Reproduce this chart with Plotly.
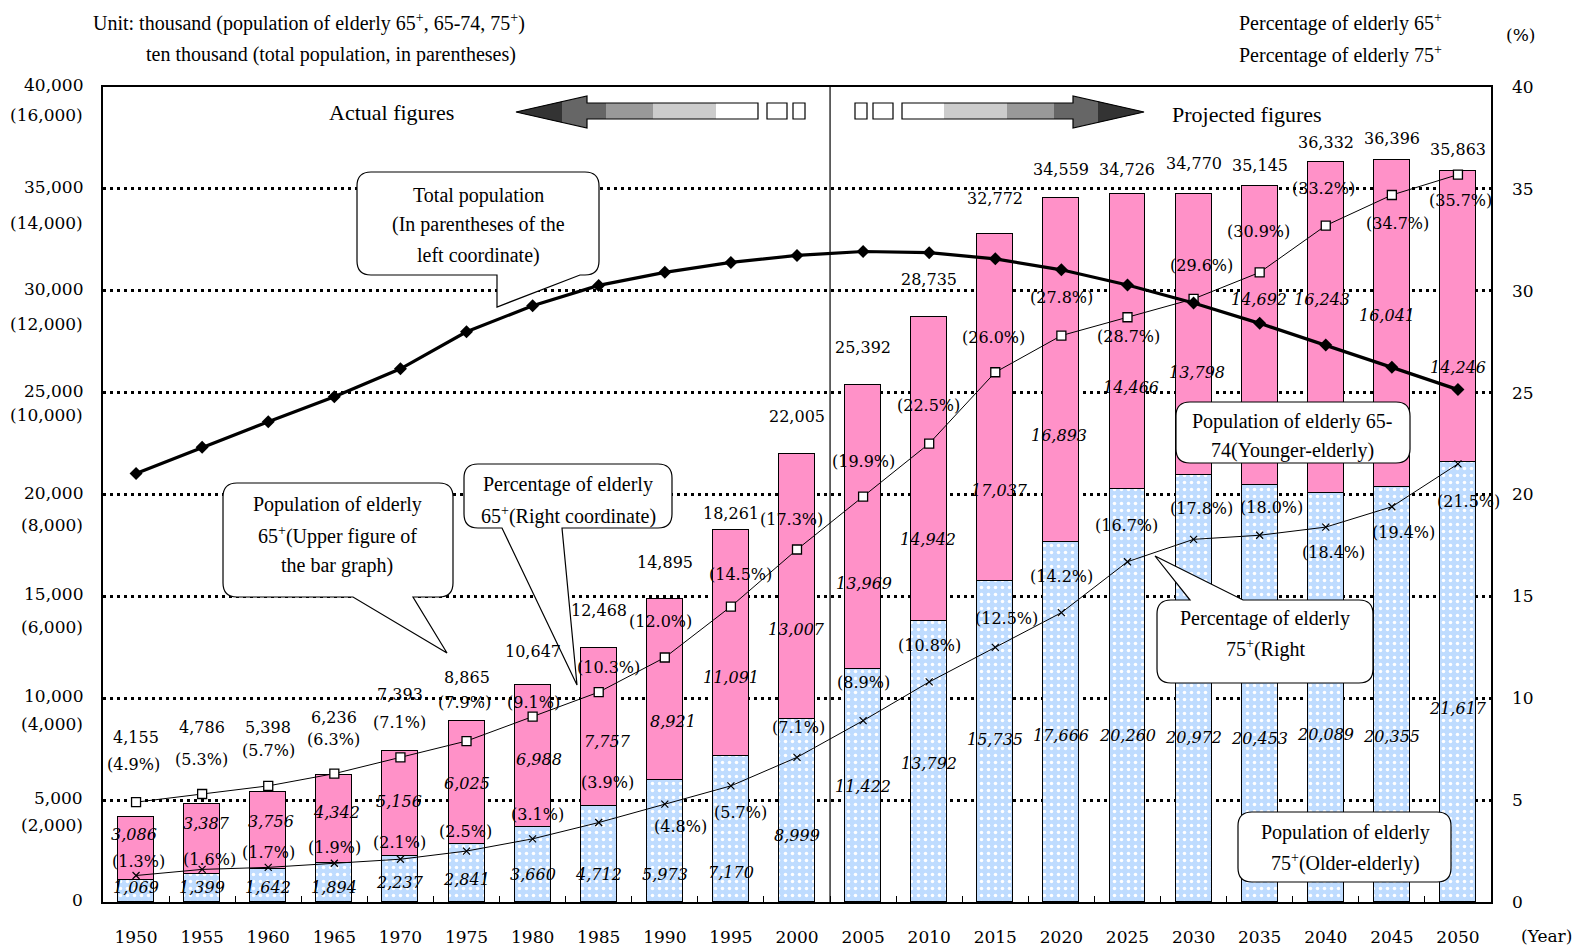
import plotly.graph_objects as go

# ---------------------------------------------------------------- data
years = [1950, 1955, 1960, 1965, 1970, 1975, 1980, 1985, 1990, 1995, 2000,
         2005, 2010, 2015, 2020, 2025, 2030, 2035, 2040, 2045, 2050]
year_labels = [str(y) for y in years]

# thousand persons
older_elderly = [1069, 1399, 1642, 1894, 2237, 2841, 3660, 4712, 5973, 7170, 8999,
                 11422, 13792, 15735, 17666, 20260, 20972, 20453, 20089, 20355, 21617]
younger_elderly = [3086, 3387, 3756, 4342, 5156, 6025, 6988, 7757, 8921, 11091, 13007,
                   13969, 14942, 17037, 16893, 14466, 13798, 14692, 16243, 16041, 14246]
elderly_total = [4155, 4786, 5398, 6236, 7393, 8865, 10647, 12468, 14895, 18261, 22005,
                 25392, 28735, 32772, 34559, 34726, 34770, 35145, 36332, 36396, 35863]
# percent
pct_65 = [4.9, 5.3, 5.7, 6.3, 7.1, 7.9, 9.1, 10.3, 12.0, 14.5, 17.3,
          19.9, 22.5, 26.0, 27.8, 28.7, 29.6, 30.9, 33.2, 34.7, 35.7]
pct_75 = [1.3, 1.6, 1.7, 1.9, 2.1, 2.5, 3.1, 3.9, 4.8, 5.7, 7.1,
          8.9, 10.8, 12.5, 14.2, 16.7, 17.8, 18.0, 18.4, 19.4, 21.5]
# ten thousand persons
total_population = [8411, 8928, 9430, 9921, 10467, 11194, 11706, 12105, 12361, 12557, 12693,
                    12771, 12747, 12627, 12411, 12114, 11758, 11360, 10934, 10496, 10059]

left_ticks = [0, 5000, 10000, 15000, 20000, 25000, 30000, 35000, 40000]
right_ticks = [0, 5, 10, 15, 20, 25, 30, 35, 40]

# ---------------------------------------------------------------- label nudges (pixels)
TOTAL_UP = [80, 77, 65, 57, 57, 44, 34, 37, 36, 16, 37, 37, 37, 36, 28, 25, 30, 20, 19, 22, 22]
PCT65_DY = [-38, -35, -35, -34, -35, -39, -14, -25, -36, -32, -30,
            -35, -38, -35, -38, 19, -33, -41, -37, 29, 26]
PCT65_DX = [-3, -1, 0, -1, -1, -2, 1, 10, -4, 10, -6, 0, -1, -2, 0, 1, 8, -1, -2, 6, 3]
PCT75_DY = [-14, -10, -15, -16, -17, -20, -24, -40, 22, 27, -30,
            -38, -36, -29, -36, -36, -31, -28, 25, 26, 38]
PCT75_DX = [2, 7, 0, 0, -1, -1, 5, 9, 16, 10, 1, 0, 0, 11, 0, -1, 8, 12, 8, 12, 11]
OLDER_DY = [-4, 0, 2, 5, 3, 6, 10, 20, 33, 44, 25, 1, 2, -2, 13, 40, 49, 45, 37, 42, 27]
YOUNGER_DY = [-14, -15, -9, -7, -2, 1, 3, 15, 32, 35, 43, 57, 71, 83, 66, 46, 38, -36, -28, -8, 51]
YOUNGER_DX = [-2, 4, 3, 2, -1, 0, 6, 9, 8, 0, -1, 1, -1, 4, -2, 4, 3, -1, -4, -5, 0]
PAREN_GAP = [27, 28, 33, 32, 24, 35, 36, 30]   # for 5,000 ... 40,000

# ---------------------------------------------------------------- geometry helpers
L, T, W, H = 103, 87, 1388, 815
WORD = "Liberation Serif"
NUM = "DejaVu Serif"


def pxx(x):
    return (x - L) / W


def pxy(y):
    return (T + H - y) / H


def pt(x, y):
    return f"{pxx(x):.5f},{pxy(y):.5f}"


def bubble_path(l, t, r, b, rad=14, tail=None):
    # tail = (edge, a, c, tip_x, tip_y)
    p = [f"M {pt(l + rad, t)}"]
    if tail and tail[0] == "top":
        _, a, c, tx, ty = tail
        p += [f"L {pt(a, t)}", f"L {pt(tx, ty)}", f"L {pt(c, t)}"]
    p += [f"L {pt(r - rad, t)}", f"Q {pt(r, t)} {pt(r, t + rad)}",
          f"L {pt(r, b - rad)}", f"Q {pt(r, b)} {pt(r - rad, b)}"]
    if tail and tail[0] == "bottom":
        _, a, c, tx, ty = tail
        p += [f"L {pt(c, b)}", f"L {pt(tx, ty)}", f"L {pt(a, b)}"]
    p += [f"L {pt(l + rad, b)}", f"Q {pt(l, b)} {pt(l, b - rad)}",
          f"L {pt(l, t + rad)}", f"Q {pt(l, t)} {pt(l + rad, t)}", "Z"]
    return " ".join(p)


def poly_path(points):
    return "M " + " L ".join(pt(x, y) for x, y in points) + " Z"


annotations = []


def note(text, x, y, size=18, family=WORD, xanchor="center", yanchor="middle",
         xref="paper", yref="paper", xshift=0, yshift=0):
    annotations.append(dict(
        text=text, x=x, y=y, xref=xref, yref=yref, xanchor=xanchor, yanchor=yanchor,
        xshift=xshift, yshift=yshift, showarrow=False,
        font=dict(family=family, size=size, color="black")))


def page_note(text, x, y, **kw):
    note(text, pxx(x), pxy(y), **kw)


# ---------------------------------------------------------------- traces
fig = go.Figure()

fig.add_trace(go.Bar(
    x=years, y=older_elderly, width=2.72, name="75+",
    marker=dict(color="#BFDCFF", line=dict(color="black", width=1),
                pattern=dict(shape=".", fgcolor="white", bgcolor="#BFDCFF",
                             size=7, solidity=0.2, fillmode="replace"))))
fig.add_trace(go.Bar(
    x=years, y=younger_elderly, width=2.72, name="65-74",
    marker=dict(color="#FF91C8", line=dict(color="black", width=1))))

fig.add_trace(go.Scatter(
    x=years, y=pct_65, yaxis="y2", mode="lines+markers", name="65+ %",
    line=dict(color="black", width=1),
    marker=dict(symbol="square", size=9, color="white", line=dict(color="black", width=1.3))))
fig.add_trace(go.Scatter(
    x=years, y=pct_75, yaxis="y2", mode="lines+markers", name="75+ %",
    line=dict(color="black", width=1),
    marker=dict(symbol="x-thin", size=7, color="black", line=dict(color="black", width=1.2))))
fig.add_trace(go.Scatter(
    x=years, y=total_population, yaxis="y3", mode="lines+markers", name="Total",
    line=dict(color="black", width=3.2),
    marker=dict(symbol="diamond", size=10, color="black")))

# ---------------------------------------------------------------- value labels
for i, yr in enumerate(years):
    note(f"{elderly_total[i]:,}", yr, elderly_total[i], size=16, family=NUM,
         xref="x", yref="y", yshift=TOTAL_UP[i])
    note(f"({pct_65[i]:.1f}%)", yr, pct_65[i], size=16, family=NUM,
         xref="x", yref="y2", xshift=PCT65_DX[i], yshift=-PCT65_DY[i])
    note(f"({pct_75[i]:.1f}%)", yr, pct_75[i], size=16, family=NUM,
         xref="x", yref="y2", xshift=PCT75_DX[i], yshift=-PCT75_DY[i])
    note(f"<i>{older_elderly[i]:,}</i>", yr, older_elderly[i] / 2, size=16, family=NUM,
         xref="x", yref="y", yshift=-OLDER_DY[i])
    note(f"<i>{younger_elderly[i]:,}</i>", yr, older_elderly[i] + younger_elderly[i] / 2,
         size=16, family=NUM, xref="x", yref="y",
         xshift=YOUNGER_DX[i], yshift=-YOUNGER_DY[i])

# left axis: thousand (plain) and ten thousand (in parentheses)
for k, v in enumerate(left_ticks):
    note(f"{v:,}", 0, v, size=17, family=NUM, xanchor="right", yref="y",
         xshift=-18, yshift=2)
    if v > 0:
        note(f"({v * 16000 // 40000:,})", 0, v, size=17, family=NUM, xanchor="right",
             yref="y", xshift=-18, yshift=2 - PAREN_GAP[k - 1])

# ---------------------------------------------------------------- page texts
page_note("Unit: thousand (population of elderly 65<sup>+</sup>, 65-74, 75<sup>+</sup>)",
          91, 22, xanchor="left", size=20)
page_note("ten thousand (total population, in parentheses)", 144, 54, xanchor="left", size=20)
page_note("Percentage of elderly 65<sup>+</sup>", 1237, 22, xanchor="left", size=20)
page_note("Percentage of elderly 75<sup>+</sup>", 1237, 54, xanchor="left", size=20)
page_note("(%)", 1520, 35, size=17, family=NUM)
page_note("(Year)", 1546, 936, size=17, family=NUM)
page_note("Actual figures", 391, 112, size=22)
page_note("Projected figures", 1247, 114, size=22)

callouts = [
    ((357, 172, 599, 275, ("bottom", 497, 580, 497, 307)),
     478, ["Total population", "(In parentheses of the", "left coordinate)"], [195, 224, 255]),
    ((223, 483, 453, 597, ("bottom", 353, 413, 447, 653)),
     337, ["Population of elderly", "65<sup>+</sup>(Upper figure of", "the bar graph)"],
     [505, 535, 565]),
    ((464, 464, 672, 528, ("bottom", 502, 562, 577, 685)),
     568, ["Percentage of elderly", "65<sup>+</sup>(Right coordinate)"], [485, 515]),
    ((1176, 402, 1410, 463, None),
     1292, ["Population of elderly 65-", "74(Younger-elderly)"], [422, 450]),
    ((1157, 600, 1373, 683, ("top", 1190, 1243, 1155, 556)),
     1265, ["Percentage of elderly", "75<sup>+</sup>(Right"], [618, 648]),
    ((1238, 812, 1451, 882, None),
     1345, ["Population of elderly", "75<sup>+</sup>(Older-elderly)"], [832, 862]),
]

shapes = []
for (l, t, r, b, tail), cx, lines, ys in callouts:
    shapes.append(dict(type="path", xref="paper", yref="paper", layer="above",
                       path=bubble_path(l, t, r, b, tail=tail),
                       fillcolor="white", line=dict(color="black", width=1.2)))
    for txt, yy in zip(lines, ys):
        page_note(txt, cx, yy, size=20)

# divider between actual and projected figures
shapes.append(dict(type="line", xref="x", yref="paper", x0=2002.5, x1=2002.5, y0=0, y1=1,
                   line=dict(color="black", width=1.2), layer="above"))

# direction arrows either side of the divider
MID = 830


def arrow_shapes(sign):
    def X(x):
        return x if sign < 0 else 2 * MID - x

    out = []
    for x0, x1, col in [(587, 606, "#666666"), (606, 653, "#999999"),
                        (653, 716, "#CCCCCC"), (716, 758, "white")]:
        out.append(dict(type="rect", xref="paper", yref="paper", layer="above",
                        x0=pxx(X(x0)), x1=pxx(X(x1)), y0=pxy(119), y1=pxy(103),
                        fillcolor=col, line=dict(width=0)))
    out.append(dict(type="path", xref="paper", yref="paper", layer="above",
                    path=poly_path([(X(516), 112), (X(587), 96), (X(587), 128)]),
                    fillcolor="#666666", line=dict(width=0)))
    out.append(dict(type="path", xref="paper", yref="paper", layer="above",
                    path=poly_path([(X(516), 112), (X(562), 101.6), (X(562), 122.4)]),
                    fillcolor="#333333", line=dict(width=0)))
    out.append(dict(type="path", xref="paper", yref="paper", layer="above",
                    path=poly_path([(X(516), 112), (X(587), 96), (X(587), 103), (X(758), 103),
                                    (X(758), 119), (X(587), 119), (X(587), 128)]),
                    fillcolor="rgba(0,0,0,0)", line=dict(color="black", width=1.2)))
    for x0, x1 in [(767, 787), (793, 805)]:
        out.append(dict(type="rect", xref="paper", yref="paper", layer="above",
                        x0=pxx(X(x0)), x1=pxx(X(x1)), y0=pxy(119), y1=pxy(103),
                        fillcolor="white", line=dict(color="black", width=1.2)))
    return out


shapes += arrow_shapes(-1) + arrow_shapes(1)

# ---------------------------------------------------------------- layout
boundaries = [y + 2.5 for y in years[:-1]]

fig.update_layout(
    width=1577, height=946,
    margin=dict(l=L, r=1577 - L - W, t=T, b=946 - T - H, autoexpand=False),
    paper_bgcolor="white", plot_bgcolor="white",
    barmode="stack", bargap=0, showlegend=False,
    xaxis=dict(range=[1947.5, 2052.5], tickvals=years, ticktext=year_labels,
               ticks="", showgrid=False, zeroline=False, automargin=False,
               showline=True, linecolor="black", linewidth=1.5, mirror=True,
               tickfont=dict(family=NUM, size=17, color="black"), ticklabelstandoff=19,
               minor=dict(tickvals=boundaries, ticks="inside", ticklen=6,
                          tickcolor="black", tickwidth=1, showgrid=False)),
    yaxis=dict(range=[0, 40000], tickvals=left_ticks, showticklabels=False, ticks="",
               showgrid=True, gridcolor="black", gridwidth=2.5, griddash="3px,4px",
               zeroline=False, showline=True, linecolor="black", linewidth=1.5, mirror=True,
               automargin=False),
    yaxis2=dict(range=[0, 40], overlaying="y", side="right", tickvals=right_ticks,
                ticks="", showgrid=False, zeroline=False, showline=False, automargin=False,
                tickfont=dict(family=NUM, size=17, color="black"), ticklabelstandoff=20),
    yaxis3=dict(range=[0, 16000], overlaying="y", visible=False),
    annotations=annotations,
    shapes=shapes,
)

fig.write_html("out.html")
